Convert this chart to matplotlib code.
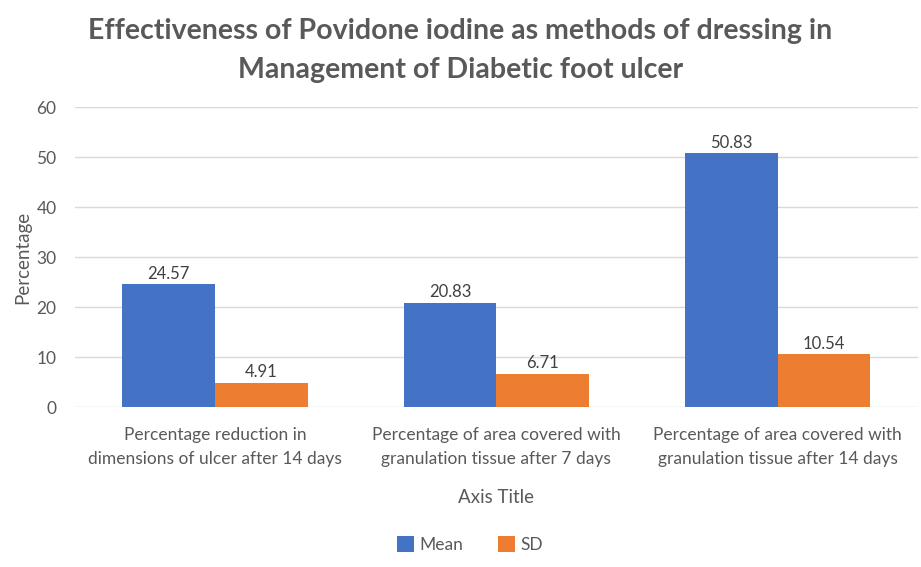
import matplotlib.pyplot as plt
import numpy as np

plt.rcParams['font.family'] = ['Lato', 'DejaVu Sans']

categories = ["Percentage reduction in\ndimensions of ulcer after 14 days",
              "Percentage of area covered with\ngranulation tissue after 7 days",
              "Percentage of area covered with\ngranulation tissue after 14 days"]
mean_vals = [24.57, 20.83, 50.83]
sd_vals = [4.91, 6.71, 10.54]

txt = "#595959"
fig = plt.figure(figsize=(9.21, 5.67), dpi=100)
ax = fig.add_axes([0.081, 0.282, 0.916, 0.529])

x = np.arange(len(categories))
w = 0.33
b1 = ax.bar(x - w / 2, mean_vals, w, color="#4472C4", label="Mean", zorder=3)
b2 = ax.bar(x + w / 2, sd_vals, w, color="#ED7D31", label="SD", zorder=3)
for bars, vals in [(b1, mean_vals), (b2, sd_vals)]:
    for r, v in zip(bars, vals):
        ax.text(r.get_x() + r.get_width() / 2, v + 0.5, f"{v:.2f}",
                ha="center", va="bottom", fontsize=12, color="#404040")

ax.set_xlim(-0.5, 2.5)
ax.set_ylim(0, 60)
ax.set_yticks(range(0, 61, 10))
ax.yaxis.grid(True, color="#d9d9d9", linewidth=1, zorder=0)
for s in ax.spines.values():
    s.set_visible(False)
ax.tick_params(length=0, labelsize=12.5, colors=txt)
ax.tick_params(axis="y", pad=13)
ax.tick_params(axis="x", pad=14)
ax.set_xticks(x)
ax.set_xticklabels(categories, fontsize=12.5, color=txt, linespacing=1.65)
ax.set_xlabel("Axis Title", fontsize=13.5, color=txt, labelpad=16)
ax.set_ylabel("Percentage", fontsize=13.5, color=txt, labelpad=4)

fig.suptitle("Effectiveness of Povidone iodine as methods of dressing in\nManagement of Diabetic foot ulcer",
             fontsize=20.5, fontweight="bold", color=txt, y=0.968, linespacing=1.6)
fig.legend(loc="center", bbox_to_anchor=(0.51, 0.04), ncol=2, frameon=False,
           fontsize=12.5, labelcolor=txt, handlelength=1.0, handleheight=1.0,
           columnspacing=2.0, handletextpad=0.3)

plt.savefig("out.png", dpi=100)
